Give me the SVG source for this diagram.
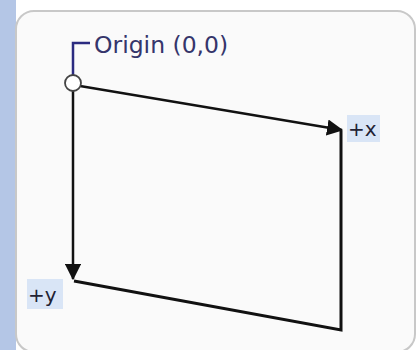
<svg xmlns="http://www.w3.org/2000/svg" width="417" height="350" viewBox="0 0 417 350">
<style>
.edge{stroke:#111;stroke-width:3;fill:none}
.axis{stroke:#111;stroke-width:2.5;fill:none}
.lbl{font-family:"DejaVu Sans",Verdana,sans-serif;fill:#222233}
.tag{fill:#d9e5f6}
</style>
<defs>
<marker id="ah" markerWidth="6.5" markerHeight="6.5" refX="6" refY="3.25" orient="auto" markerUnits="strokeWidth">
<path d="M0,0 L6.5,3.25 L0,6.5 Z" fill="#111"/>
</marker>
</defs>
<rect x="0" y="0" width="417" height="350" fill="#ffffff"/>
<rect x="0" y="0" width="16" height="350" fill="#b4c6e6"/>
<rect x="16" y="11" width="399" height="341" rx="18" fill="#fafafa" stroke="#c8c8c8" stroke-width="2"/>
<g id="connectors">
<line class="axis" x1="80" y1="86" x2="342" y2="130" marker-end="url(#ah)"/>
<line class="axis" x1="73" y1="91" x2="73" y2="279" marker-end="url(#ah)"/>
<polyline class="edge" points="341,131 341,330 74,281"/>
<polyline points="73,75 73,43 90,43" fill="none" stroke="#2b2b80" stroke-width="2.5"/>
</g>
<g id="origin">
<circle cx="73" cy="83" r="8" fill="#ffffff" stroke="#444" stroke-width="1.8"/>
<text class="lbl" x="94" y="53" font-size="23.5" style="fill:#35356b">Origin (0,0)</text>
</g>
<g id="xlabel">
<rect class="tag" x="347" y="115" width="33" height="27"/>
<text class="lbl" x="348" y="136" font-size="20">+x</text>
</g>
<g id="ylabel">
<rect class="tag" x="27" y="279" width="36" height="30"/>
<text class="lbl" x="28" y="302" font-size="20">+y</text>
</g>
</svg>
